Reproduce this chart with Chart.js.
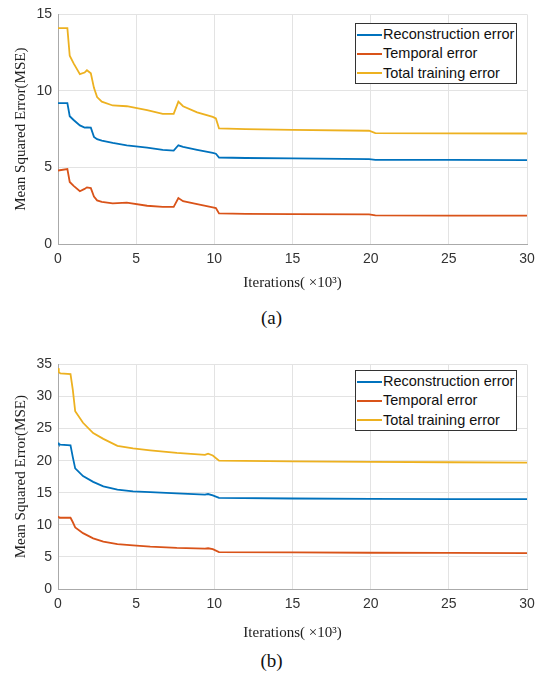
<!DOCTYPE html>
<html>
<head>
<meta charset="utf-8">
<script src="https://cdn.jsdelivr.net/npm/chart.js@4"></script>
<style>
  html,body{margin:0;padding:0;background:#fff;}
  body{width:543px;height:677px;position:relative;overflow:hidden;}
  canvas{position:absolute;left:0;}
  .legend{position:absolute;left:355px;width:162px;height:61px;border:1px solid #333;background:#fff;
    font-family:"Liberation Sans",Arial,sans-serif;font-size:14.5px;color:#111;box-sizing:border-box;padding-top:1px;}
  .legend .row{height:19.3px;line-height:19px;white-space:nowrap;display:flex;align-items:center;}
  .legend .swatch{display:inline-block;width:25px;height:2px;margin-left:1px;margin-right:1px;}
  .cap{position:absolute;left:0;width:543px;text-align:center;font-family:"Liberation Serif","Times New Roman",serif;font-size:19px;color:#111;}
</style>
</head>
<body>
<canvas id="ca" width="543" height="300" style="top:0px"></canvas>
<div class="legend" id="lega" style="top:23px"></div>
<div class="cap" style="top:307px">(a)</div>
<canvas id="cb" width="543" height="300" style="top:350px"></canvas>
<div class="legend" id="legb" style="top:370px"></div>
<div class="cap" style="top:650px">(b)</div>
<script>
// ---- data ----
const seriesNames = ['Reconstruction error', 'Temporal error', 'Total training error'];
const seriesColors = ['#0072BD', '#D95319', '#EDB120'];

// chart (a): iterations in thousands
const iterA  = [0, 0.6, 0.75, 1.0, 1.4, 1.7, 1.85, 2.1, 2.3, 2.5, 2.8, 3.5, 4.4, 5.7, 6.7, 7.4, 7.7, 8.0, 8.9, 9.9, 10.1, 10.3, 12, 15, 19.9, 20.3, 25, 30];
const reconA = [9.2, 9.2, 8.35, 8.1, 7.75, 7.6, 7.62, 7.6, 7.0, 6.85, 6.75, 6.6, 6.45, 6.3, 6.15, 6.1, 6.45, 6.35, 6.15, 5.95, 5.9, 5.65, 5.62, 5.6, 5.55, 5.5, 5.49, 5.48];
const tempA  = [4.8, 4.9, 4.05, 3.8, 3.45, 3.6, 3.7, 3.65, 3.1, 2.85, 2.75, 2.65, 2.7, 2.5, 2.42, 2.42, 3.0, 2.8, 2.6, 2.4, 2.35, 2.0, 1.97, 1.95, 1.93, 1.87, 1.86, 1.85];
const totalA = [14.1, 14.1, 12.3, 11.8, 11.1, 11.2, 11.35, 11.15, 10.2, 9.6, 9.3, 9.05, 9.0, 8.75, 8.5, 8.5, 9.3, 9.0, 8.6, 8.3, 8.2, 7.55, 7.5, 7.45, 7.4, 7.25, 7.23, 7.22];

// chart (b)
const iterB  = [0, 0.05, 0.15, 0.8, 0.95, 1.1, 1.6, 2.25, 2.9, 3.8, 4.8, 5.9, 7.6, 9.4, 9.6, 9.9, 10.3, 15, 20, 25, 30];
const reconB = [22.8, 22.6, 22.5, 22.4, 20.5, 18.8, 17.6, 16.7, 16.0, 15.5, 15.2, 15.1, 14.9, 14.7, 14.8, 14.6, 14.2, 14.1, 14.05, 14.0, 14.0];
const tempB  = [11.3, 11.2, 11.1, 11.1, 10.4, 9.6, 8.7, 7.9, 7.4, 7.0, 6.8, 6.6, 6.4, 6.3, 6.35, 6.2, 5.75, 5.7, 5.65, 5.62, 5.6];
const totalB = [34.4, 33.8, 33.6, 33.5, 31.0, 27.7, 25.9, 24.3, 23.4, 22.3, 21.9, 21.6, 21.2, 20.9, 21.1, 20.8, 20.0, 19.9, 19.8, 19.75, 19.7];

const xMax = 30, xStep = 5;
const yMaxA = 15, yMaxB = 35, yStep = 5;
const xTitle = 'Iterations( ×10³)';
const yTitle = 'Mean Squared Error(MSE)';

// ---- build ----
function pts(xs, ys){ return xs.map((x,i)=>({x:x, y:ys[i]})); }

function makeChart(id, xs, seriesList, yMax, xAxisH, padTop){
  const tickFont = {family:'"Liberation Sans", Arial, sans-serif', size:14};
  const titleFont = {family:'"Liberation Serif", "Times New Roman", serif', size:15};
  return new Chart(document.getElementById(id), {
    type:'line',
    data:{ datasets: seriesList.map((ys,i)=>({
      label: seriesNames[i], data: pts(xs, ys), borderColor: seriesColors[i],
      backgroundColor: seriesColors[i], borderWidth:1.8, pointRadius:0, tension:0, fill:false
    }))},
    options:{
      responsive:false, animation:false, devicePixelRatio:1,
      layout:{padding:{top:padTop, right:16, left:0, bottom:0}},
      plugins:{legend:{display:false}, tooltip:{enabled:false}},
      scales:{
        x:{type:'linear', min:0, max:xMax,
          ticks:{stepSize:xStep, font:tickFont, color:'#333', padding:7, maxRotation:0},
          grid:{color:'#e3e3e3', drawTicks:false},
          border:{color:'#aaa'},
          title:{display:true, text:xTitle, font:titleFont, color:'#222', padding:{top:0,bottom:8}},
          afterFit:(s)=>{ s.height = xAxisH; }
        },
        y:{type:'linear', min:0, max:yMax,
          ticks:{stepSize:yStep, font:tickFont, color:'#333', padding:6},
          grid:{color:'#e3e3e3', drawTicks:false},
          border:{color:'#aaa'},
          title:{display:true, text:yTitle, font:titleFont, color:'#222', padding:{top:12,bottom:0}},
          afterFit:(s)=>{ s.width = 58; }
        }
      }
    }
  });
}

function makeLegend(id){
  const el = document.getElementById(id);
  seriesNames.forEach((n,i)=>{
    const r = document.createElement('div'); r.className='row';
    const sw = document.createElement('span'); sw.className='swatch'; sw.style.background=seriesColors[i];
    const t = document.createElement('span'); t.textContent = n;
    r.appendChild(sw); r.appendChild(t); el.appendChild(r);
  });
}

makeChart('ca', iterA, [reconA, tempA, totalA], yMaxA, 56, 14);
makeChart('cb', iterB, [reconB, tempB, totalB], yMaxB, 61, 13);
makeLegend('lega');
makeLegend('legb');
</script>
</body>
</html>
